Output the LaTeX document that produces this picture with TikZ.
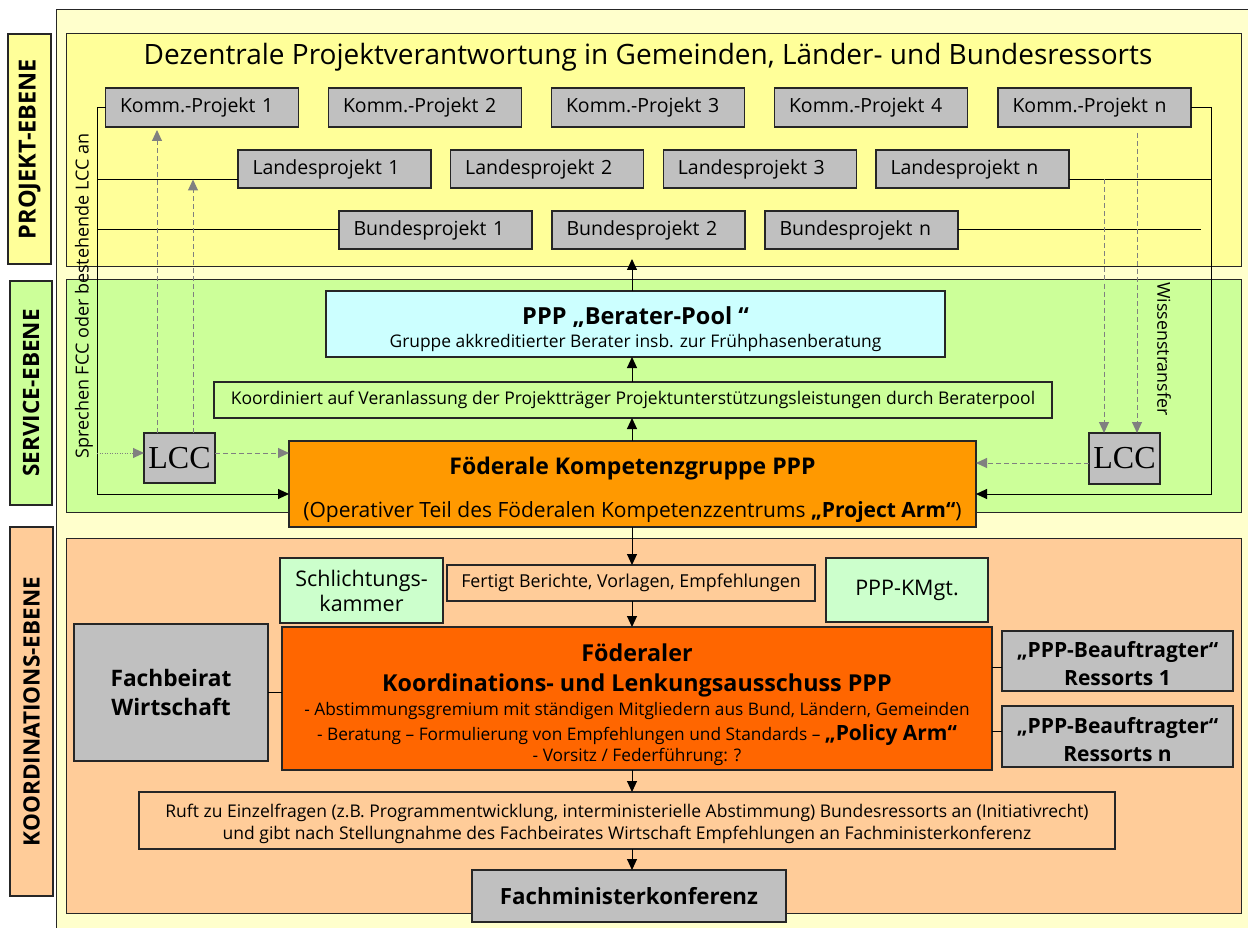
\documentclass[tikz,border=0pt]{standalone}
\usepackage{fontspec}
\setmainfont{Open Sans}
\newfontfamily\lccfont{Liberation Serif}
\usetikzlibrary{arrows.meta}
\definecolor{bgY}{HTML}{FFFFCC}
\definecolor{yel}{HTML}{FFFF99}
\definecolor{grn}{HTML}{CCFF99}
\definecolor{org}{HTML}{FFCC99}
\definecolor{gry}{HTML}{C0C0C0}
\definecolor{cyn}{HTML}{CCFFFF}
\definecolor{orn}{HTML}{FF9900}
\definecolor{red}{HTML}{FF6600}
\definecolor{mint}{HTML}{CCFFCC}
\definecolor{dgray}{HTML}{808080}
\newcommand\fs[2]{\fontsize{#1}{#2}\selectfont}
\newcommand\strt[1]{\rule{0pt}{#1}}
\begin{document}
\begin{tikzpicture}[x=1pt,y=-1pt,
  every node/.style={inner sep=0pt,outer sep=0pt},
  panel/.style={draw=black!85,line width=0.9pt},
  bx/.style={draw=black!85,line width=1.1pt,align=center},
  gbox/.style={bx,fill=gry,font=\fs{19.5}{23}},
  rowbox/.style={gbox,minimum width=193pt,minimum height=38pt,text width=164pt,align=left},
  sidebox/.style={bx,rotate=90,font=\fs{22.5}{26}\bfseries},
  arr/.style={line width=1pt,-{Triangle[length=11pt,width=10pt]}},
  garr/.style={draw=dgray,line width=1pt,-{Triangle[length=11pt,width=10pt]},dash pattern=on 5pt off 3pt},
  darr/.style={draw=dgray,line width=1pt,-{Triangle[length=11pt,width=10pt]},dash pattern=on 1pt off 1.5pt},
  ln/.style={line width=1pt}]
\useasboundingbox (0,0) rectangle (1248,928);
\fill[white] (0,0) rectangle (1248,928);
\draw[panel,fill=bgY] (56,9) rectangle (1252,932);
% side labels
\node[sidebox,fill=yel,minimum width=230pt,minimum height=43pt,font=\fs{23.5}{26}\bfseries] (sp) at (29.5,149) {PROJEKT-EBENE};
\node[sidebox,fill=grn,minimum width=224pt,minimum height=42pt] (ss) at (31,393) {SERVICE-EBENE};
\node[sidebox,fill=org,minimum width=369pt,minimum height=43pt] (sk) at (31.5,711.5) {KOORDINATIONS-EBENE};
% panels
\draw[panel,fill=yel] (66,33) rectangle (1241,266);
\draw[panel,fill=grn] (66,279) rectangle (1241,512);
\draw[panel,fill=org] (66,538) rectangle (1241,913);
% title
\node (title) at (648,57) {\fs{28}{32}Dezentrale Projektverantwortung in Gemeinden, Länder- und Bundesressorts};
% project rows
\foreach \n/\x/\t in {k1/202/1,k2/425/2,k3/648/3,k4/871/4,k5/1094.5/n}
  \node[rowbox,minimum height=39pt] (\n) at (\x,107.5) {Komm.-Projekt \t};
\foreach \n/\x/\t in {l1/334.5/1,l2/547.2/2,l3/759.8/3,l4/972.5/n}
  \node[rowbox] (\n) at (\x,169) {Landesprojekt \t};
\foreach \n/\x/\t in {b1/435.5/1,b2/648.5/2,b3/861.5/n}
  \node[rowbox] (\n) at (\x,230) {Bundesprojekt \t};
% service
\node[bx,fill=cyn,minimum width=619pt,minimum height=66pt,font=\fs{17.4}{23}] (bp) at (635.5,324)
  {{\fs{23.5}{23}\bfseries\strt{28pt}PPP „Berater-Pool “}\\[0pt]Gruppe akkreditierter Berater insb. zur Frühphasenberatung};
\node[bx,fill=grn,minimum width=838pt,minimum height=36pt,font=\fs{17.5}{21}] (ko) at (633,400)
  {Koordiniert auf Veranlassung der Projektträger Projektunterstützungsleistungen durch Beraterpool};
\node[bx,fill=orn,minimum width=687pt,minimum height=86pt,font=\fs{21}{22}] (fkg) at (632.5,484)
  {{\fs{23}{22}\bfseries\strt{29pt}Föderale Kompetenzgruppe PPP}\\[21pt](Operativer Teil des Föderalen Kompetenzzentrums \textbf{„Project Arm“})};
\node[bx,fill=gry,minimum width=71pt,minimum height=50pt,font=\lccfont\fs{32}{36}] (lccL) at (179.5,458) {LCC};
\node[bx,fill=gry,minimum width=71pt,minimum height=51pt,font=\lccfont\fs{32}{36}] (lccR) at (1124.5,458.5) {LCC};
% rotated notes
\node[rotate=90,font=\fs{18}{21}] (nl) at (84,296) {Sprechen FCC oder bestehende LCC an};
\node[rotate=-90,font=\fs{17.8}{21}] (nr) at (1164,349) {Wissenstransfer};
% koordination
\node[bx,fill=org,minimum width=368pt,minimum height=36pt,font=\fs{17.8}{21}] (fe) at (631,583) {Fertigt Berichte, Vorlagen, Empfehlungen};
\node[bx,fill=mint,minimum width=163pt,minimum height=65pt,font=\fs{21.5}{25}] (sk2) at (361.5,590.5) {Schlichtungs-\\kammer};
\node[bx,fill=mint,minimum width=162pt,minimum height=64pt,font=\fs{21.5}{25}] (km) at (907,590) {PPP-KMgt.};
\node[bx,fill=red,minimum width=710pt,minimum height=143pt,font=\fs{17.3}{21}] (fk) at (637,698.5)
  {{\fs{23.3}{21}\bfseries\strt{30pt}Föderaler}\\[9pt]{\fs{23.3}{21}\bfseries Koordinations- und Lenkungsausschuss PPP}\\[3pt]
   - Abstimmungsgremium mit ständigen Mitgliedern aus Bund, Ländern, Gemeinden\\[4pt]
   - Beratung – Formulierung von Empfehlungen und Standards – {\fs{21}{21}\bfseries „Policy Arm“}\\[0pt]
   - Vorsitz / Federführung: ?};
\node[bx,fill=gry,minimum width=194pt,minimum height=137pt,font=\fs{22.7}{29}\bfseries] (fb) at (171,692.5) {Fachbeirat\\Wirtschaft};
\node[bx,fill=gry,minimum width=231pt,minimum height=60pt,font=\fs{21}{28}\bfseries] (be1) at (1117.5,661) {\strt{22pt}„PPP-Beauftragter“\\Ressorts 1};
\node[bx,fill=gry,minimum width=231pt,minimum height=61pt,font=\fs{21}{28}\bfseries] (be2) at (1117.5,736.5) {\strt{22pt}„PPP-Beauftragter“\\Ressorts n};
\node[bx,fill=org,minimum width=976pt,minimum height=57pt,font=\fs{17.5}{22}] (ru) at (627,820.5)
  {\strt{19.5pt}Ruft zu Einzelfragen (z.B. Programmentwicklung, interministerielle Abstimmung) Bundesressorts an (Initiativrecht)\\und gibt nach Stellungnahme des Fachbeirates Wirtschaft Empfehlungen an Fachministerkonferenz};
\node[bx,fill=gry,minimum width=314pt,minimum height=52pt,font=\fs{22.3}{26}\bfseries] (fm) at (629,896) {Fachministerkonferenz};
% helper coordinates
\coordinate (ax) at (632,0);
\coordinate (lx) at (97,0);
\coordinate (rx) at (1211,0);
\coordinate (yb) at (0,494);
\coordinate (yl) at (0,179.5);
\coordinate (yd) at (0,453);
\coordinate (yr) at (0,463);
\coordinate (ptop) at (632,259);
\coordinate (bend) at (1201,230);
\coordinate (x1) at (157,0);
\coordinate (x2) at (193,0);
\coordinate (x3) at (1104,0);
\coordinate (x4) at (1137,0);
% left connector frame
\draw[arr] (k1.west) -- (k1.west -| lx) -- (lx |- yb) -- (fkg.west |- yb);
\draw[ln] (lx |- yl) -- (l1.west |- yl);
\draw[ln] (lx |- b1.west) -- (b1.west);
% right connector frame
\draw[arr] (k5.east) -- (k5.east -| rx) -- (rx |- yb) -- (fkg.east |- yb);
\draw[ln] (l4.east |- yl) -- (rx |- yl);
\draw[ln] (b3.east) -- (bend);
% LCC links
\draw[darr] (lx |- yd) -- (lccL.west |- yd);
\draw[garr] (lccL.east |- yd) -- (fkg.west |- yd);
\draw[garr] (lccR.west |- yr) -- (fkg.east |- yr);
\draw[garr,shorten >=3pt] (lccL.north -| x1) -- (k1.south -| x1);
\draw[garr] (lccL.north -| x2) -- (x2 |- yl);
\draw[garr] (x3 |- yl) -- (lccR.north -| x3);
\draw[garr,shorten <=6pt] (k5.south -| x4) -- (lccR.north -| x4);
% central arrows
\draw[arr] (fkg.north -| ax) -- (ko.south -| ax);
\draw[arr] (ko.north -| ax) -- (bp.south -| ax);
\draw[arr] (bp.north -| ax) -- (ptop);
\draw[arr] (fkg.south -| ax) -- (fe.north -| ax);
\draw[arr] (fe.south -| ax) -- (fk.north -| ax);
\draw[arr] (fk.south -| ax) -- (ru.north -| ax);
\draw[arr] (ru.south -| ax) -- (fm.north -| ax);
% side links
\draw[ln] (fb.east) -- (fk.west |- fb.east);
\draw[ln] (fk.east |- 0,667) -- (be1.west |- 0,667);
\draw[ln] (fk.east |- 0,731) -- (be2.west |- 0,731);
\end{tikzpicture}
\end{document}
